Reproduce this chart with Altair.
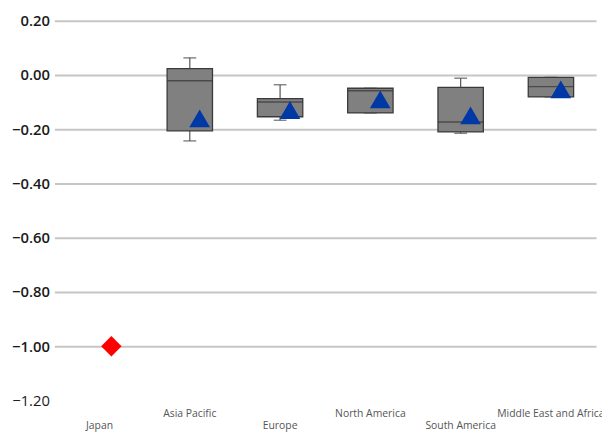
import altair as alt
import pandas as pd

categories = ["Japan", "Asia Pacific", "Europe", "North America", "South America", "Middle East and Africa"]

# Box statistics (Japan has no box)
box_categories = ["Asia Pacific", "Europe", "North America", "South America", "Middle East and Africa"]
whisker_low = [-0.243, -0.167, -0.140, -0.215, -0.081]
q1 = [-0.206, -0.154, -0.140, -0.210, -0.081]
median = [-0.021, -0.100, -0.058, -0.173, -0.043]
q3 = [0.023, -0.087, -0.049, -0.046, -0.009]
whisker_high = [0.063, -0.036, -0.049, -0.012, -0.009]

# Mean markers
mean_categories = ["Asia Pacific", "Europe", "North America", "South America", "Middle East and Africa"]
mean_values = [-0.160, -0.129, -0.090, -0.149, -0.053]

# Single-value category
single_categories = ["Japan"]
single_values = [-1.00]

y_ticks = [0.2, 0.0, -0.2, -0.4, -0.6, -0.8, -1.0, -1.2]

box_df = pd.DataFrame({
    "cat": box_categories, "wl": whisker_low, "q1": q1, "med": median,
    "q3": q3, "wh": whisker_high,
})
mean_df = pd.DataFrame({"cat": mean_categories, "mean": mean_values})
single_df = pd.DataFrame({"cat": single_categories, "val": single_values})

lower_row = "indexof(['Japan','Europe','South America'], datum.value) >= 0"

x_enc = alt.X(
    "cat:N",
    sort=categories,
    scale=alt.Scale(domain=categories, paddingInner=0, paddingOuter=0),
    axis=alt.Axis(
        title=None, labelAngle=0, ticks=False, domain=False, grid=False,
        labelFont="Open Sans", labelFontSize=10.5, labelColor="#555555",
        labelPadding={"condition": {"test": lower_row, "value": 20}, "value": 8},
    ),
)

y_scale = alt.Scale(domain=[-1.2, 0.2], nice=False, zero=False)
y_axis = alt.Axis(
    title=None, values=y_ticks, format=".2f", ticks=False, domain=False,
    labelFont="Open Sans", labelFontSize=15, labelColor="#1a1a1a", labelPadding=5,
    labelFontWeight={"condition": {"test": "abs(datum.value + 1.2) < 0.001", "value": "normal"}, "value": 600},
    gridColor={"condition": {"test": "abs(datum.value + 1.2) < 0.001", "value": "transparent"}, "value": "#c6c6c6"},
    gridWidth=2,
)

base = alt.Chart(box_df)

whisker = base.mark_rule(color="#555555", strokeWidth=1.2).encode(
    x=x_enc,
    y=alt.Y("wl:Q", scale=y_scale, axis=y_axis),
    y2="wh:Q",
)

cap_low = base.mark_tick(color="#555555", size=13, thickness=1.5, orient="horizontal").encode(
    x=alt.X("cat:N", sort=categories), y=alt.Y("wl:Q")
)
cap_high = base.mark_tick(color="#555555", size=13, thickness=1.5, orient="horizontal").encode(
    x=alt.X("cat:N", sort=categories), y=alt.Y("wh:Q")
)

box = base.mark_bar(size=46, color="#808080", stroke="#3a3a3a", strokeWidth=1.3).encode(
    x=alt.X("cat:N", sort=categories), y=alt.Y("q1:Q"), y2="q3:Q"
)

med = base.mark_tick(color="#333333", size=46, thickness=1.5, orient="horizontal").encode(
    x=alt.X("cat:N", sort=categories), y=alt.Y("med:Q")
)

means = alt.Chart(mean_df).mark_point(
    shape="triangle-up", filled=True, opacity=1, color="#0039A6", size=441, xOffset=10
).encode(x=alt.X("cat:N", sort=categories), y=alt.Y("mean:Q"))

single = alt.Chart(single_df).mark_point(
    shape="diamond", filled=True, opacity=1, color="#FF0000", size=430, xOffset=12
).encode(x=alt.X("cat:N", sort=categories), y=alt.Y("val:Q"))

chart = alt.layer(whisker, cap_low, cap_high, box, med, means, single).properties(
    width=549, height=385,
    autosize=alt.AutoSizeParams(type="none"),
    padding={"left": 47, "top": 10, "right": 6, "bottom": 31},
).configure_view(stroke=None)

chart.save("out.html", embed_options={"renderer": "svg", "actions": False})
